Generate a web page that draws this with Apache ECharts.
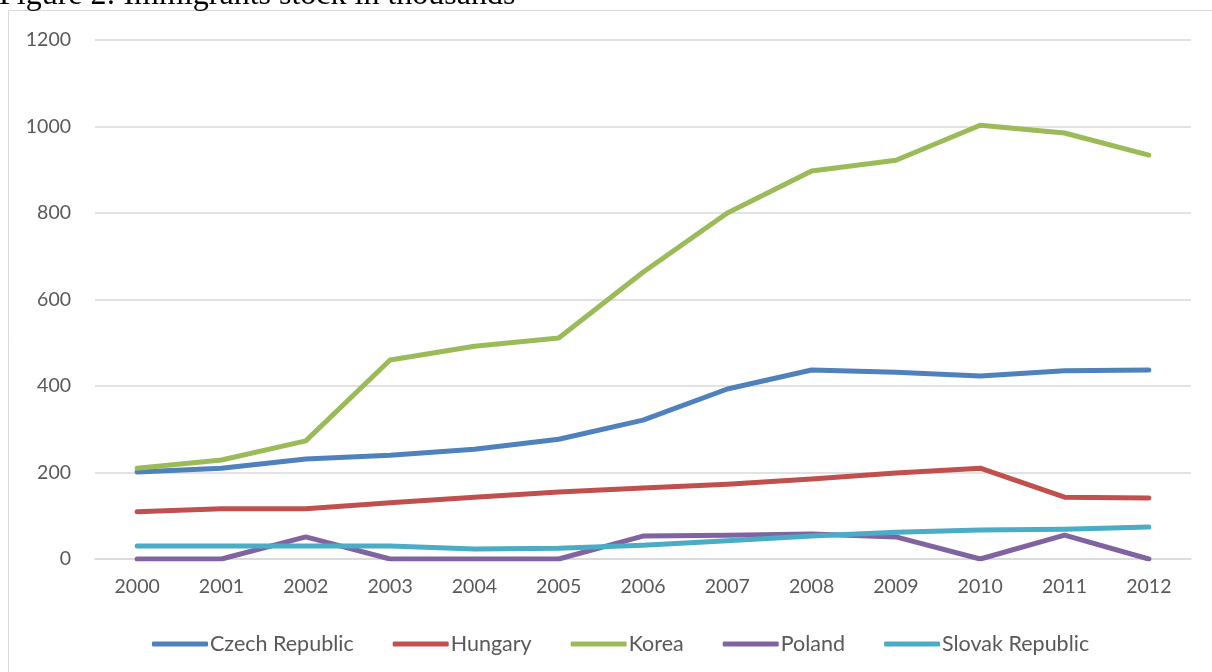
<!DOCTYPE html>
<html>
<head>
<meta charset="utf-8">
<script src="https://cdn.jsdelivr.net/npm/echarts@6/dist/echarts.min.js"></script>
<style>
  html, body { margin: 0; padding: 0; background: #fff; }
  #main { width: 1212px; height: 672px; }
</style>
</head>
<body>
<div id="main"></div>
<script>
var years = ['2000','2001','2002','2003','2004','2005','2006','2007','2008','2009','2010','2011','2012'];
var czech = [201, 210, 231, 240, 254, 277, 321, 393, 437, 432, 423, 435, 437];
var hungary = [109, 116, 116, 130, 143, 155, 164, 173, 185, 199, 210, 143, 141];
var korea = [210, 229, 273, 460, 492, 511, 663, 800, 897, 922, 1003, 985, 934];
var poland = [0, 0, 51, 0, 0, 0, 53, 55, 58, 51, 0, 55, 0];
var slovak = [30, 30, 30, 30, 23, 25, 32, 42, 53, 62, 67, 69, 74];

var names = ['Czech Republic', 'Hungary', 'Korea', 'Poland', 'Slovak Republic'];
var colors = ['#4F81BD', '#C0504D', '#9BBB59', '#8064A2', '#4BACC6'];
var values = [czech, hungary, korea, poland, slovak];

var chart = echarts.init(document.getElementById('main'));

function makeSeries() {
    var series = [];
    for (var i = 0; i < names.length; i++) {
        series.push({
            name: names[i],
            type: 'line',
            data: values[i],
            symbol: 'none',
            lineStyle: { width: 5, color: colors[i], cap: 'round', join: 'round' },
            itemStyle: { color: colors[i] }
        });
    }
    return series;
}

var option = {
    animation: false,
    color: colors,
    graphic: [
        {
            type: 'rect',
            shape: { x: 8.5, y: 10.5, width: 1210, height: 670 },
            style: { fill: 'none', stroke: '#d9d9d9', lineWidth: 1 },
            silent: true
        },
        {
            type: 'text',
            left: -1,
            top: -20,
            style: {
                text: 'Figure 2: Immigrants stock in thousands',
                font: '32px "Liberation Serif"',
                fill: '#000'
            }
        }
    ],
    grid: { left: 95, right: 21, top: 40, bottom: 113 },
    legend: {
        bottom: 12,
        left: 147,
        icon: 'roundRect',
        itemWidth: 56,
        itemHeight: 5,
        itemGap: 39,
        textStyle: { fontFamily: 'Lato', fontSize: 21.5, color: '#595959', padding: [0, 0, 0, -3] },
        data: names
    },
    xAxis: {
        type: 'category',
        data: years,
        boundaryGap: true,
        axisLine: { show: true, lineStyle: { color: '#d9d9d9', width: 1.5 } },
        axisTick: { show: false },
        axisLabel: { fontFamily: 'Lato', fontSize: 19.5, color: '#595959', margin: 18 }
    },
    yAxis: {
        type: 'value',
        min: 0,
        max: 1200,
        interval: 200,
        axisLine: { show: false },
        axisTick: { show: false },
        splitLine: { lineStyle: { color: '#d9d9d9', width: 1.5 } },
        axisLabel: {
            fontFamily: 'Lato', fontSize: 19.5, color: '#595959', margin: 24,
            formatter: function (v) { return String(v); }
        }
    },
    series: makeSeries()
};

chart.setOption(option);
</script>
</body>
</html>
